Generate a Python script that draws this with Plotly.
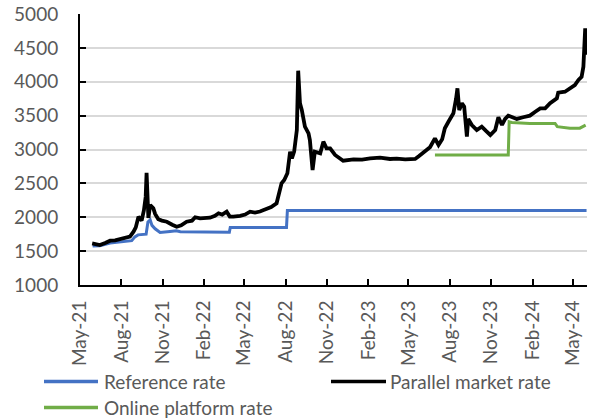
import plotly.graph_objects as go

# ---------------- data ----------------
ref_dates = ["2021-05-29", "2021-06-14", "2021-07-07", "2021-07-29", "2021-08-24",
             "2021-08-31", "2021-09-07", "2021-09-25", "2021-09-29", "2021-10-04",
             "2021-10-08", "2021-10-15", "2021-10-26", "2021-11-17", "2021-12-01",
             "2021-12-10", "2022-01-20", "2022-03-29", "2022-03-31", "2022-08-03",
             "2022-08-05", "2024-05-31"]
ref_vals = [1575, 1580, 1620, 1640, 1655,
            1710, 1740, 1750, 1930, 1960,
            1880, 1830, 1775, 1790, 1800,
            1785, 1780, 1780, 1850, 1850,
            2100, 2100]

par_dates = ["2021-05-28", "2021-06-06", "2021-06-14", "2021-06-26", "2021-07-07",
             "2021-07-18", "2021-07-29", "2021-08-09", "2021-08-20", "2021-08-28",
             "2021-09-02", "2021-09-08", "2021-09-15", "2021-09-20", "2021-09-24",
             "2021-09-26", "2021-09-28", "2021-09-30", "2021-10-04", "2021-10-11",
             "2021-10-15", "2021-10-22", "2021-10-30", "2021-11-10", "2021-11-22",
             "2021-12-02", "2021-12-12", "2021-12-24", "2022-01-05", "2022-01-12",
             "2022-01-23", "2022-02-03", "2022-02-14", "2022-02-25", "2022-03-05",
             "2022-03-13", "2022-03-23", "2022-03-30", "2022-04-07", "2022-04-22",
             "2022-05-03", "2022-05-14", "2022-05-25", "2022-06-05", "2022-06-20",
             "2022-06-30", "2022-07-12", "2022-07-17", "2022-07-23", "2022-07-29",
             "2022-08-05", "2022-08-11", "2022-08-15", "2022-08-20", "2022-08-26",
             "2022-08-29", "2022-09-02", "2022-09-06", "2022-09-13", "2022-09-21",
             "2022-09-24", "2022-09-30", "2022-10-05", "2022-10-17", "2022-10-24",
             "2022-10-31", "2022-11-08", "2022-11-19", "2022-12-07", "2022-12-30",
             "2023-01-18", "2023-02-05", "2023-02-27", "2023-03-21", "2023-04-05",
             "2023-04-24", "2023-05-16", "2023-05-24", "2023-06-05", "2023-06-18",
             "2023-06-29", "2023-07-07", "2023-07-15", "2023-07-21", "2023-07-29",
             "2023-08-09", "2023-08-15", "2023-08-18", "2023-08-22", "2023-08-28",
             "2023-09-02", "2023-09-06", "2023-09-08", "2023-09-11", "2023-09-19",
             "2023-09-30", "2023-10-11", "2023-10-21", "2023-10-30", "2023-11-10",
             "2023-11-17", "2023-11-25", "2023-12-02", "2023-12-09", "2023-12-17",
             "2023-12-28", "2024-01-11", "2024-01-26", "2024-02-07", "2024-02-18",
             "2024-02-29", "2024-03-11", "2024-03-26", "2024-03-29", "2024-04-13",
             "2024-04-24", "2024-05-05", "2024-05-13", "2024-05-20", "2024-05-24",
             "2024-05-26", "2024-05-28", "2024-05-29"]
par_vals = [1615, 1600, 1590, 1620, 1654,
            1660, 1680, 1695, 1713, 1787,
            1850, 2008, 1950, 2100, 2300,
            2657, 2350, 1990, 2181, 2132,
            2050, 1970, 1950, 1934, 1890,
            1860, 1880, 1934, 1950, 2000,
            1984, 1990, 1993, 2020, 2058,
            2040, 2083, 2010, 2008, 2020,
            2040, 2083, 2070, 2085, 2117,
            2150, 2206, 2350, 2501, 2550,
            2649, 2968, 2870, 2968, 3288,
            4163, 3682, 3583, 3337, 3239,
            3140, 2697, 2968, 2944, 3116,
            3018, 3018, 2919, 2835, 2855,
            2850, 2870, 2880, 2860, 2865,
            2855, 2860, 2900, 2960, 3033,
            3165, 3067, 3150, 3313, 3410,
            3534, 3750, 3903, 3583, 3682,
            3632, 3400, 3189, 3451, 3362,
            3288, 3337, 3270, 3214, 3288,
            3476, 3362, 3451, 3500, 3480,
            3451, 3476, 3500, 3558, 3608,
            3608, 3682, 3756, 3839, 3853,
            3903, 3952, 4026, 4074, 4222,
            4469, 4789, 4400]

onl_dates = ["2023-06-29", "2023-12-09", "2023-12-11", "2023-12-17", "2024-01-26",
             "2024-03-22", "2024-03-27", "2024-04-24", "2024-05-16", "2024-05-29"]
onl_vals = [2920, 2920, 3410, 3400, 3385,
            3385, 3337, 3313, 3315, 3360]

tick_dates = ["2021-05-01", "2021-08-01", "2021-11-01", "2022-02-01", "2022-05-01",
              "2022-08-01", "2022-11-01", "2023-02-01", "2023-05-01", "2023-08-01",
              "2023-11-01", "2024-02-01", "2024-05-01"]
tick_labels = ["May-21", "Aug-21", "Nov-21", "Feb-22", "May-22", "Aug-22", "Nov-22",
               "Feb-23", "May-23", "Aug-23", "Nov-23", "Feb-24", "May-24"]
y_ticks = [1000, 1500, 2000, 2500, 3000, 3500, 4000, 4500, 5000]

series_names = ["Reference rate", "Parallel market rate", "Online platform rate"]
colors = ["#4472C4", "#000000", "#70AD47"]

# ---------------- figure ----------------
FONT = "Lato"
GREY = "#595959"
W, H = 594, 419
L, R, T, B = 80, 7, 14, 134
pw, ph = W - L - R, H - T - B

fig = go.Figure()
fig.add_trace(go.Scatter(x=ref_dates, y=ref_vals, mode="lines", name=series_names[0],
                         line=dict(color=colors[0], width=3)))
fig.add_trace(go.Scatter(x=onl_dates, y=onl_vals, mode="lines", name=series_names[2],
                         line=dict(color=colors[2], width=3)))
fig.add_trace(go.Scatter(x=par_dates, y=par_vals, mode="lines", name=series_names[1],
                         line=dict(color=colors[1], width=3.8)))

fig.update_layout(
    width=W, height=H,
    margin=dict(l=L, r=R, t=T, b=B, pad=0, autoexpand=False),
    paper_bgcolor="white", plot_bgcolor="white",
    showlegend=False,
    font=dict(family=FONT, size=19, color=GREY),
)
fig.update_xaxes(
    type="date", range=["2021-05-01", "2024-06-01"], automargin=False,
    tickvals=tick_dates, ticktext=tick_labels, tickangle=-90,
    showgrid=False, zeroline=False,
    showline=True, linecolor="black", linewidth=2,
    ticks="inside", ticklen=6, tickwidth=1.5, tickcolor="black",
    tickfont=dict(family=FONT, size=19, color=GREY),
    ticklabelstandoff=6,
)
fig.update_yaxes(
    range=[1000, 5000], tickvals=y_ticks, automargin=False,
    showgrid=True, gridcolor="#D9D9D9", gridwidth=1.5,
    zeroline=False,
    showline=True, linecolor="black", linewidth=2,
    ticks="inside", ticklen=6, tickwidth=1.5, tickcolor="black",
    tickfont=dict(family=FONT, size=19, color=GREY),
    ticklabelstandoff=16,
)

# manual legend (Excel-style long swatches)
def px_x(px):
    return (px - L) / pw

def px_y(py):
    return (H - B - py) / ph

legend_items = [
    (series_names[0], colors[0], 44, 98, 102, 381.5),
    (series_names[1], colors[1], 331, 386, 388, 381.5),
    (series_names[2], colors[2], 44, 98, 102, 407.5),
]
for name, col, x0, x1, tx, yy in legend_items:
    fig.add_shape(type="line", xref="paper", yref="paper",
                  x0=px_x(x0), x1=px_x(x1), y0=px_y(yy), y1=px_y(yy),
                  line=dict(color=col, width=3.5))
    fig.add_annotation(xref="paper", yref="paper", x=px_x(tx), y=px_y(yy),
                       text=name, showarrow=False, xanchor="left", yanchor="middle",
                       font=dict(family=FONT, size=19, color=GREY))

fig.write_html("out.html", config={"displayModeBar": False},
               post_script="document.body.style.margin='0';document.body.style.overflow='hidden';")
